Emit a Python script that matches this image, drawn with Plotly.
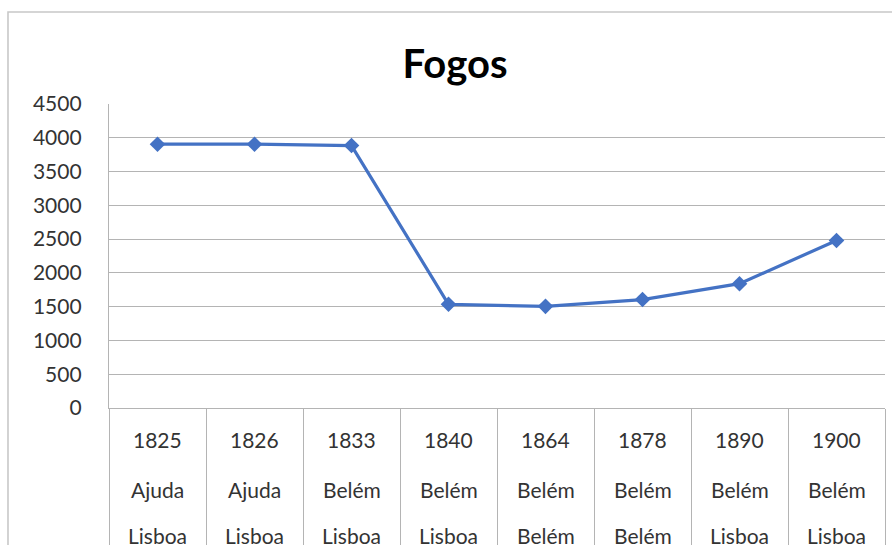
import plotly.graph_objects as go

years = ["1825", "1826", "1833", "1840", "1864", "1878", "1890", "1900"]
freguesia = ["Ajuda", "Ajuda", "Belém", "Belém", "Belém", "Belém", "Belém", "Belém"]
concelho = ["Lisboa", "Lisboa", "Lisboa", "Lisboa", "Belém", "Belém", "Lisboa", "Lisboa"]
fogos = [3905, 3905, 3885, 1535, 1505, 1605, 1840, 2480]
y_ticks = [0, 500, 1000, 1500, 2000, 2500, 3000, 3500, 4000, 4500]

FONT = "Lato"
W, H = 892, 545          # size of the visible picture
H_LAYOUT = H + 20        # the page renders the graph a little shorter than layout.height
L, R, T = 109, 7, 104
PLOT_BOTTOM = 408
B = H - PLOT_BOTTOM
PH = H - T - B
PW = W - L - R

def py(pix):
    return (H - B - pix) / PH

def px(pix):
    return (pix - L) / PW

fig = go.Figure()
fig.add_trace(go.Scatter(
    x=list(range(len(years))), y=fogos, mode="lines+markers",
    line=dict(color="#4472C4", width=3.2),
    marker=dict(symbol="diamond", size=12, color="#4472C4"),
    showlegend=False, cliponaxis=False,
))

annotations = []
for i in range(len(years)):
    for row, yp in ((years, 440), (freguesia, 489), (concelho, 535)):
        annotations.append(dict(
            x=i, xref="x", y=py(yp), yref="paper", text=row[i], showarrow=False,
            font=dict(family=FONT, size=21, color="#333333"),
            xanchor="center", yanchor="middle",
        ))

fig.update_layout(
    width=W, height=H_LAYOUT,
    margin=dict(l=L, r=R, t=T, b=B, pad=0),
    paper_bgcolor="white", plot_bgcolor="white",
    title=dict(text="<b>Fogos</b>", x=px(455), xref="paper", xanchor="center",
               y=1 - 62 / H, yref="container", yanchor="middle",
               font=dict(family=FONT, size=40, color="#000000")),
    annotations=annotations,
    shapes=[dict(type="rect", xref="paper", yref="paper",
                 x0=px(8), x1=px(900), y0=py(570), y1=py(12),
                 line=dict(color="#c8c8c8", width=1.6), fillcolor="rgba(0,0,0,0)",
                 layer="below")],
)

fig.update_xaxes(
    type="linear", range=[-0.5, len(years) - 0.5],
    tickmode="array", tickvals=[i - 0.5 for i in range(len(years) + 1)],
    ticktext=[""] * (len(years) + 1),
    ticks="outside", ticklen=150, tickcolor="#b4b4b4", tickwidth=1.3,
    showgrid=False, zeroline=False,
    showline=True, linecolor="#b4b4b4", linewidth=1.3,
)
fig.update_yaxes(
    range=[0, 4500], tickvals=y_ticks, ticktext=[str(v) for v in y_ticks],
    showgrid=True, gridcolor="#b4b4b4", gridwidth=1.3,
    zeroline=False, showline=True, linecolor="#b4b4b4", linewidth=1.3,
    ticks="", ticklabelstandoff=22,
    tickfont=dict(family=FONT, size=21, color="#333333"),
)

fig.write_html(
    "out.html",
    config={"displayModeBar": False},
    post_script="document.body.style.margin='0';document.body.style.overflow='hidden';",
)
